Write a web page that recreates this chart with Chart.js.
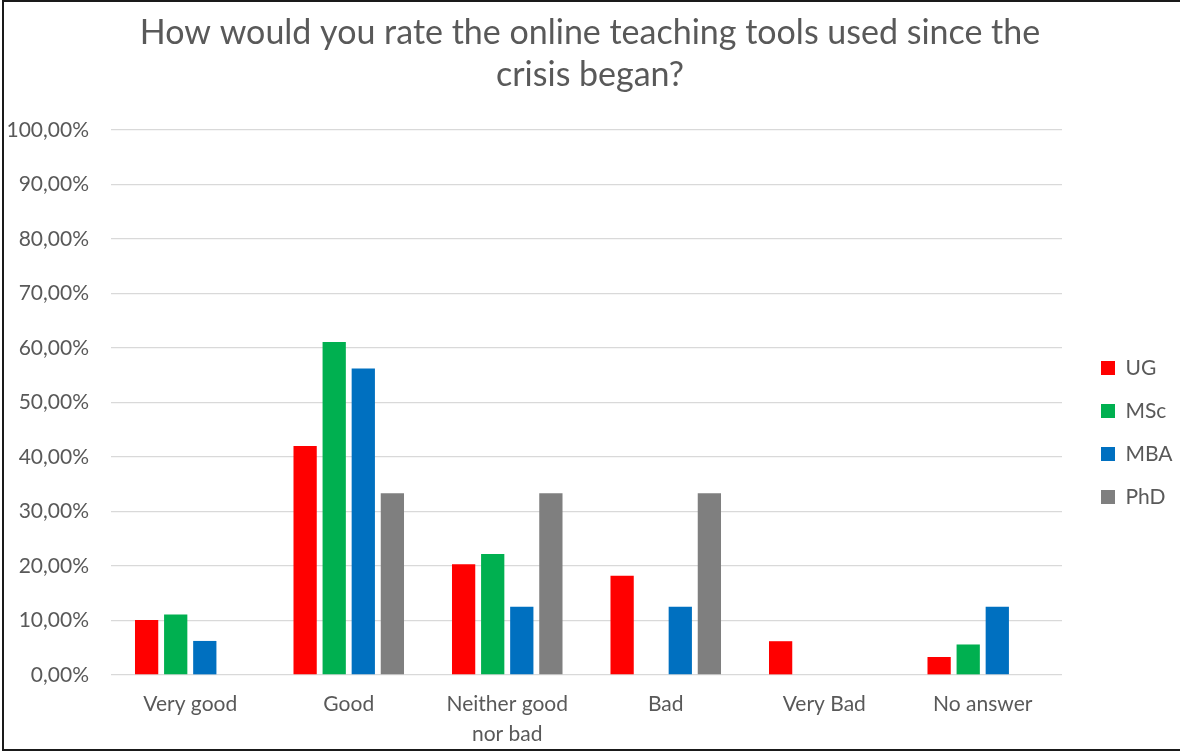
<!DOCTYPE html>
<html>
<head>
<meta charset="utf-8">
<title>Online teaching tools rating</title>
<script src="https://cdn.jsdelivr.net/npm/chart.js@4.4.1/dist/chart.umd.min.js"></script>
<style>
    html, body {
        margin: 0;
        padding: 0;
        background: #ffffff;
    }

    .quadro {
        position: relative;
        width: 1180px;
        height: 751px;
        overflow: hidden;
    }

    .moldura {
        position: absolute;
        left: 2px;
        top: 0;
        width: 1190px;
        height: 747px;
        border-left: 2px solid #1a1a1a;
        border-top: 2px solid #1a1a1a;
        border-bottom: 2px solid #1a1a1a;
        pointer-events: none;
    }
</style>
</head>
<body>
<div class="quadro">
    <canvas id="avaliacaoChart"></canvas>
    <div class="moldura"></div>
</div>

<script>
const categorias = [
    "Very good",
    "Good",
    ["Neither good", "nor bad"],
    "Bad",
    "Very Bad",
    "No answer"
];

// percentuais por grupo de alunos
const ug = [10.1, 42.0, 20.3, 18.2, 6.2, 3.3];
const msc = [11.1, 61.1, 22.2, 0, 0, 5.6];
const mba = [6.25, 56.25, 12.5, 12.5, 0, 12.5];
const phd = [0, 33.33, 33.33, 33.33, 0, 0];

const yTicks = [0, 10, 20, 30, 40, 50, 60, 70, 80, 90, 100];

const cinzaTexto = "#595959";
const fonte = "Lato";

// legenda com largura fixa, deslocada para a direita e para baixo
const ajusteLegenda = {
    id: "ajusteLegenda",

    beforeLayout(chart) {
        const legenda = chart.legend;
        if (!legenda || legenda._larguraFixa) return;

        const fitOriginal = legenda.fit;
        legenda.fit = function () {
            fitOriginal.call(this);
            this.width = 118;
        };
        legenda._larguraFixa = true;
    },

    afterLayout(chart) {
        const legenda = chart.legend;
        legenda.left += 17;
        legenda.right += 17;
        legenda.top += 57;
        legenda.bottom += 57;
    }
};

const ctx = document
    .getElementById("avaliacaoChart")
    .getContext("2d");

new Chart(ctx, {
    type: "bar",

    data: {
        labels: categorias,

        datasets: [
            { label: "UG", data: ug, backgroundColor: "#ff0000" },
            { label: "MSc", data: msc, backgroundColor: "#00b050" },
            { label: "MBA", data: mba, backgroundColor: "#0070c0" },
            { label: "PhD", data: phd, backgroundColor: "#7f7f7f" }
        ]
    },

    options: {
        responsive: true,
        maintainAspectRatio: false,
        animation: false,

        datasets: {
            bar: {
                categoryPercentage: 0.734,
                barPercentage: 0.8,
                borderWidth: 0
            }
        },

        layout: {
            padding: 0
        },

        plugins: {
            title: {
                display: true,
                text: [
                    "How would you rate the online teaching tools used since the",
                    "crisis began?"
                ],
                color: cinzaTexto,
                font: {
                    family: fonte,
                    size: 34,
                    weight: "normal",
                    lineHeight: 1.235
                },
                padding: {
                    top: 12,
                    bottom: 34
                }
            },

            legend: {
                position: "right",
                labels: {
                    color: cinzaTexto,
                    boxWidth: 14,
                    boxHeight: 14,
                    padding: 22,
                    font: {
                        family: fonte,
                        size: 21
                    }
                }
            },

            tooltip: {
                enabled: false
            }
        },

        scales: {
            x: {
                grid: {
                    display: false
                },
                border: {
                    display: false
                },
                ticks: {
                    color: cinzaTexto,
                    padding: 6,
                    maxRotation: 0,
                    autoSkip: false,
                    font: {
                        family: fonte,
                        size: 21,
                        lineHeight: 1.43
                    }
                },
                afterFit(scale) {
                    scale.height = 76;
                }
            },

            y: {
                min: 0,
                max: 100,
                afterBuildTicks(scale) {
                    scale.ticks = yTicks.map(v => ({ value: v }));
                },
                grid: {
                    color: "#d9d9d9",
                    lineWidth: 1.3,
                    drawTicks: false
                },
                border: {
                    display: false
                },
                ticks: {
                    color: cinzaTexto,
                    padding: 22,
                    font: {
                        family: fonte,
                        size: 21
                    },
                    callback: valor => valor.toFixed(2).replace(".", ",") + "%"
                },
                afterFit(scale) {
                    scale.width = 111;
                }
            }
        }
    },

    plugins: [ajusteLegenda]
});
</script>
</body>
</html>
